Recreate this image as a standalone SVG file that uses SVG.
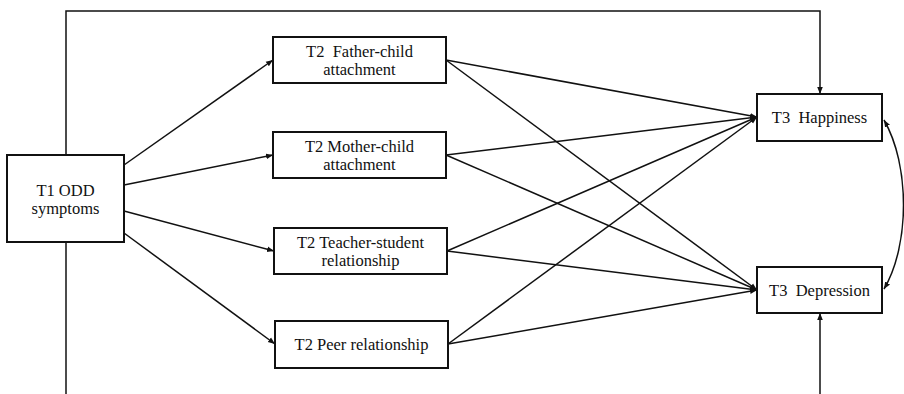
<svg xmlns="http://www.w3.org/2000/svg" width="904" height="394" viewBox="0 0 904 394">
<defs>
<marker id="ah" viewBox="0 0 10 10" refX="10" refY="5" markerWidth="7" markerHeight="7" markerUnits="userSpaceOnUse" orient="auto-start-reverse">
<path d="M0,1 L10,5 L0,9 Z" fill="#111"/>
</marker>
<style>
.box{fill:#fff;stroke:#111;stroke-width:2}
.lbl{font-family:"Liberation Serif","Times New Roman",serif;font-size:16.5px;fill:#111;text-anchor:middle}
.c{fill:none;stroke:#111;stroke-width:1.5;marker-end:url(#ah)}
.l{fill:none;stroke:#111;stroke-width:1.5}
</style>
</defs>
<rect width="904" height="394" fill="#fff"/>
<g id="connectors">
<path class="c" d="M66,155 L66,11 L820,11 L820,94"/>
<path class="l" d="M66,242 L66,394"/>
<path class="c" d="M820,394 L820,313"/>
<path class="c" d="M124,165 L273,60"/>
<path class="c" d="M124,185 L273,155"/>
<path class="c" d="M124,211 L274,251"/>
<path class="c" d="M124,233 L275,344"/>
<path class="c" d="M446,60 L757,117"/>
<path class="c" d="M446,60 L757,290"/>
<path class="c" d="M446,155 L757,117"/>
<path class="c" d="M446,155 L757,290"/>
<path class="c" d="M447,251 L757,117"/>
<path class="c" d="M447,251 L757,290"/>
<path class="c" d="M448,344 L757,117"/>
<path class="c" d="M448,344 L757,290"/>
<path class="c" d="M884,120 C910,165 910,245 884,289" marker-start="url(#ah)"/>
</g>
<g id="t1">
<rect class="box" x="7" y="155" width="117" height="87"/>
<text class="lbl" x="65.5" y="195.5">T1 ODD</text>
<text class="lbl" x="65.5" y="213.5">symptoms</text>
</g>
<g id="father">
<rect class="box" x="273" y="37" width="173" height="46"/>
<text class="lbl" x="359.5" y="56.5" xml:space="preserve">T2  Father-child</text>
<text class="lbl" x="359.5" y="74.5">attachment</text>
</g>
<g id="mother">
<rect class="box" x="273" y="132" width="173" height="46"/>
<text class="lbl" x="359.5" y="151.5">T2 Mother-child</text>
<text class="lbl" x="359.5" y="169.5">attachment</text>
</g>
<g id="teacher">
<rect class="box" x="274" y="228" width="173" height="46"/>
<text class="lbl" x="360.5" y="247.5">T2 Teacher-student</text>
<text class="lbl" x="360.5" y="265.5">relationship</text>
</g>
<g id="peer">
<rect class="box" x="275" y="321" width="173" height="47"/>
<text class="lbl" x="361.5" y="350">T2 Peer relationship</text>
</g>
<g id="happiness">
<rect class="box" x="757" y="94" width="125" height="47"/>
<text class="lbl" x="819.5" y="122.5" xml:space="preserve">T3  Happiness</text>
</g>
<g id="depression">
<rect class="box" x="757" y="267" width="125" height="46"/>
<text class="lbl" x="819.5" y="295.5" xml:space="preserve">T3  Depression</text>
</g>
</svg>
